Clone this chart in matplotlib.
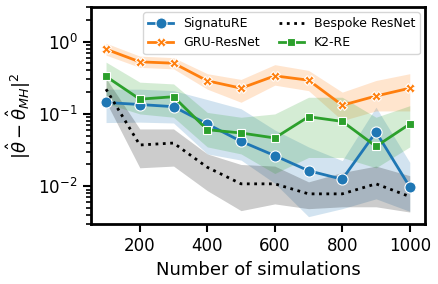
import matplotlib
matplotlib.use("Agg")
import matplotlib.pyplot as plt
import numpy as np

n_sims = [100, 200, 300, 400, 500, 600, 700, 800, 900, 1000]

signature = [0.144, 0.135, 0.126, 0.0725, 0.0418, 0.0265, 0.0164, 0.0125, 0.0563, 0.0098]
signature_lo = [0.076, 0.077, 0.075, 0.028, 0.023, 0.011, 0.0038, 0.0049, 0.0067, 0.0045]
signature_hi = [0.22, 0.22, 0.21, 0.158, 0.118, 0.06, 0.035, 0.0226, 0.124, 0.0214]

gru = [0.785, 0.525, 0.503, 0.287, 0.227, 0.336, 0.293, 0.132, 0.177, 0.227]
gru_lo = [0.65, 0.44, 0.42, 0.22, 0.145, 0.25, 0.21, 0.081, 0.11, 0.11]
gru_hi = [0.95, 0.63, 0.6, 0.36, 0.3, 0.48, 0.4, 0.2, 0.29, 0.36]

bespoke = [0.22, 0.0372, 0.0396, 0.0183, 0.0108, 0.0108, 0.00785, 0.00785, 0.0108, 0.0072]
bespoke_lo = [0.147, 0.018, 0.019, 0.0087, 0.0046, 0.0057, 0.0049, 0.0052, 0.0052, 0.0044]
bespoke_hi = [0.31, 0.062, 0.062, 0.028, 0.020, 0.019, 0.0115, 0.0155, 0.019, 0.014]

k2 = [0.33, 0.16, 0.173, 0.0605, 0.0545, 0.0465, 0.0915, 0.0788, 0.0356, 0.0725]
k2_lo = [0.14, 0.1, 0.09, 0.035, 0.028, 0.015, 0.025, 0.025, 0.018, 0.035]
k2_hi = [0.52, 0.275, 0.26, 0.105, 0.09, 0.1, 0.17, 0.17, 0.09, 0.13]

fig = plt.figure(figsize=(4.39, 2.84), dpi=100)
ax = fig.add_axes([0.207, 0.211, 0.761, 0.764])

series = [
    ("SignatuRE", signature, signature_lo, signature_hi, "#1f77b4", "-", "o", 8),
    ("GRU-ResNet", gru, gru_lo, gru_hi, "#ff7f0e", "-", "X", 7),
    ("Bespoke ResNet", bespoke, bespoke_lo, bespoke_hi, "black", ":", None, 0),
    ("K2-RE", k2, k2_lo, k2_hi, "#2ca02c", "-", "s", 6),
]

handles = []
for name, y, lo, hi, col, ls, mk, ms in series:
    ax.fill_between(n_sims, lo, hi, color=col, alpha=0.2, linewidth=0)
    h, = ax.plot(n_sims, y, color=col, linestyle=ls, linewidth=2,
                 marker=mk, markersize=ms, markeredgecolor="white",
                 markeredgewidth=0.8, label=name)
    handles.append(h)

ax.set_yscale("log")
ax.set_ylim(0.003, 3)
ax.set_xlim(55, 1045)
ax.set_xticks([200, 400, 600, 800, 1000])
ax.set_xlabel("Number of simulations", fontsize=13)
ax.set_ylabel(r"$|\hat{\theta} - \hat{\theta}_{MH}|^2$", fontsize=13)
ax.tick_params(axis="both", which="major", labelsize=12, length=6, width=1.5)
ax.tick_params(axis="y", which="minor", length=3.5, width=1.2)
for s in ax.spines.values():
    s.set_linewidth(2)

ax.legend(handles=handles, ncol=2, loc="upper right", fontsize=9,
          framealpha=0.8, borderaxespad=0.4, columnspacing=1.5)

fig.savefig("out.png", dpi=100)
